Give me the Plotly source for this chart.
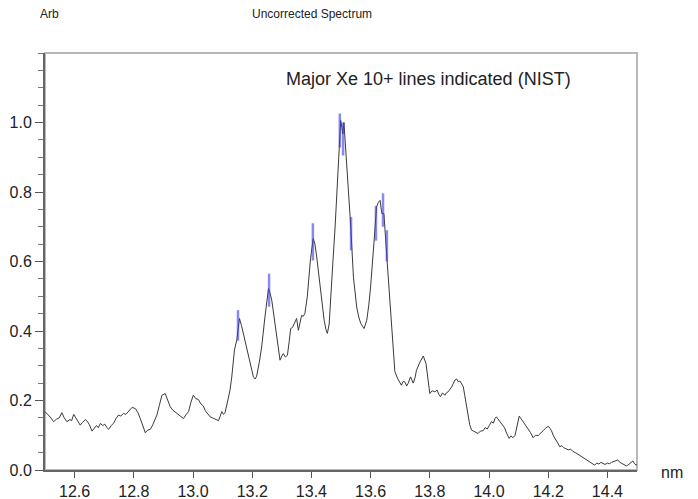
import plotly.graph_objects as go

wavelength = [
 12.500,12.510,12.518,12.529,12.538,12.548,12.557,12.565,12.574,12.584,12.590,12.597,12.606,12.612,12.619,12.627,
 12.636,12.643,12.650,12.659,12.666,12.674,12.680,12.687,12.695,12.702,12.709,12.715,12.724,12.732,12.740,12.748,
 12.756,12.765,12.773,12.781,12.788,12.794,12.805,12.814,12.822,12.830,12.839,12.847,12.856,12.864,12.871,12.878,
 12.886,12.895,12.906,12.914,12.923,12.932,12.938,12.945,12.952,12.960,12.968,12.977,12.985,12.993,13.001,13.010,
 13.018,13.027,13.035,13.042,13.050,13.058,13.066,13.075,13.086,13.092,13.097,13.103,13.108,13.115,13.125,13.131,
 13.140,13.148,13.157,13.164,13.170,13.178,13.187,13.196,13.204,13.210,13.215,13.224,13.232,13.243,13.255,13.260,
 13.266,13.274,13.281,13.288,13.294,13.300,13.305,13.312,13.319,13.325,13.330,13.336,13.341,13.346,13.350,13.356,
 13.362,13.367,13.372,13.378,13.386,13.391,13.397,13.406,13.412,13.418,13.424,13.429,13.436,13.443,13.449,13.454,
 13.460,13.465,13.472,13.480,13.488,13.494,13.499,13.503,13.506,13.510,13.513,13.517,13.525,13.533,13.542,13.553,
 13.560,13.567,13.578,13.587,13.594,13.600,13.611,13.620,13.626,13.632,13.638,13.645,13.654,13.665,13.676,13.682,
 13.692,13.704,13.710,13.716,13.722,13.727,13.735,13.744,13.750,13.755,13.767,13.778,13.787,13.793,13.800,13.808,
 13.817,13.825,13.830,13.836,13.843,13.851,13.856,13.862,13.868,13.874,13.880,13.885,13.891,13.896,13.902,13.907,
 13.913,13.918,13.924,13.929,13.935,13.941,13.950,13.957,13.963,13.971,13.980,13.987,13.994,14.001,14.008,14.015,
 14.020,14.025,14.032,14.039,14.046,14.053,14.060,14.068,14.074,14.081,14.088,14.093,14.098,14.102,14.108,14.115,
 14.122,14.132,14.140,14.149,14.157,14.166,14.175,14.183,14.191,14.200,14.206,14.211,14.218,14.225,14.232,14.239,
 14.246,14.253,14.261,14.268,14.276,14.284,14.292,14.299,14.306,14.314,14.321,14.329,14.336,14.343,14.350,14.357,
 14.364,14.371,14.378,14.385,14.392,14.400,14.407,14.414,14.421,14.428,14.435,14.442,14.450,14.458,14.464,14.469,
 14.478,14.486,14.492,14.497,14.500]

intensity = [
 0.168,0.160,0.152,0.139,0.146,0.150,0.165,0.150,0.139,0.145,0.142,0.160,0.148,0.140,0.129,0.137,
 0.145,0.140,0.130,0.112,0.120,0.128,0.122,0.134,0.128,0.132,0.122,0.117,0.128,0.135,0.148,0.158,
 0.155,0.163,0.160,0.168,0.175,0.180,0.177,0.165,0.148,0.130,0.107,0.115,0.117,0.130,0.145,0.158,
 0.185,0.215,0.220,0.200,0.182,0.172,0.168,0.163,0.158,0.155,0.148,0.160,0.168,0.195,0.215,0.205,
 0.203,0.190,0.184,0.170,0.160,0.153,0.150,0.147,0.142,0.155,0.168,0.160,0.165,0.190,0.230,0.268,
 0.345,0.375,0.436,0.415,0.393,0.368,0.335,0.300,0.268,0.262,0.270,0.310,0.354,0.440,0.522,0.510,
 0.489,0.440,0.393,0.350,0.316,0.328,0.335,0.325,0.330,0.370,0.407,0.410,0.421,0.430,0.436,0.402,
 0.430,0.445,0.442,0.450,0.498,0.550,0.608,0.666,0.650,0.613,0.570,0.527,0.475,0.431,0.405,0.393,
 0.420,0.479,0.590,0.699,0.824,0.920,1.006,0.985,0.967,1.000,0.960,0.920,0.824,0.699,0.555,0.469,
 0.440,0.421,0.407,0.431,0.475,0.527,0.651,0.757,0.770,0.776,0.738,0.738,0.623,0.489,0.360,0.283,
 0.262,0.244,0.255,0.253,0.242,0.250,0.268,0.250,0.265,0.287,0.311,0.328,0.307,0.260,0.220,0.228,
 0.225,0.230,0.218,0.211,0.222,0.215,0.222,0.225,0.232,0.239,0.250,0.259,0.262,0.254,0.256,0.250,
 0.240,0.215,0.185,0.158,0.130,0.115,0.110,0.108,0.105,0.112,0.113,0.122,0.118,0.128,0.139,0.135,
 0.148,0.153,0.145,0.139,0.128,0.121,0.105,0.091,0.098,0.093,0.100,0.118,0.140,0.155,0.148,0.139,
 0.130,0.121,0.108,0.093,0.100,0.099,0.108,0.113,0.120,0.126,0.120,0.113,0.098,0.086,0.078,0.067,
 0.070,0.064,0.062,0.058,0.060,0.053,0.050,0.046,0.043,0.036,0.033,0.029,0.024,0.020,0.018,0.014,
 0.020,0.017,0.022,0.020,0.016,0.020,0.018,0.022,0.024,0.026,0.029,0.022,0.018,0.014,0.012,0.014,
 0.020,0.026,0.018,0.014,0.016]

nist_wl = [13.152, 13.257, 13.405, 13.496, 13.507, 13.534, 13.618, 13.642, 13.655]
nist_lo = [0.372, 0.470, 0.603, 0.928, 0.905, 0.632, 0.660, 0.700, 0.600]
nist_hi = [0.460, 0.565, 0.710, 1.026, 1.000, 0.728, 0.760, 0.796, 0.690]

x_ticks = [12.6, 12.8, 13.0, 13.2, 13.4, 13.6, 13.8, 14.0, 14.2, 14.4]
y_ticks = [0.0, 0.2, 0.4, 0.6, 0.8, 1.0]
y_minor = [round(i * 0.05, 2) for i in range(0, 25)]

seg_x, seg_y = [], []
for w, lo, hi in zip(nist_wl, nist_lo, nist_hi):
    seg_x += [w, w, None]
    seg_y += [lo, hi, None]

# page has an 8px body margin; plot area on page: x 45..637, y 53..470
L, T, R, B = 37, 45, 61, 29
W, H = 690, 491
PW, PH = W - L - R, H - T - B


def px(xp):
    return (xp - 8 - L) / PW


def py(yp):
    return (H - B - (yp - 8)) / PH


fig = go.Figure()
fig.add_trace(go.Scatter(x=wavelength, y=intensity, mode="lines",
                         line=dict(color="#3a3a3a", width=1), hoverinfo="skip"))
fig.add_trace(go.Scatter(x=seg_x, y=seg_y, mode="lines",
                         line=dict(color="rgba(60,60,225,0.6)", width=2.5), hoverinfo="skip"))

font_main = "Liberation Sans, Arial, sans-serif"
fig.update_layout(
    width=W, height=H,
    margin=dict(l=L, r=R, t=T, b=B, autoexpand=False),
    paper_bgcolor="white", plot_bgcolor="white",
    showlegend=False,
    font=dict(family=font_main, size=16, color="#222"),
    xaxis=dict(range=[12.5, 14.5], tickmode="array", tickvals=x_ticks,
               ticktext=[f"{v:.1f}" for v in x_ticks],
               ticks="outside", ticklen=6, tickcolor="#555", tickwidth=1,
               showline=True, linecolor="#666", linewidth=2,
               showgrid=False, zeroline=False,
               tickfont=dict(size=16, color="#222")),
    yaxis=dict(range=[0, 1.2], tickmode="array", tickvals=y_ticks,
               ticktext=[f"{v:.1f}" for v in y_ticks],
               ticks="outside", ticklen=8, tickcolor="#555", tickwidth=1,
               minor=dict(tickmode="array", tickvals=y_minor, ticks="outside",
                          ticklen=5, tickcolor="#777", tickwidth=1, showgrid=False),
               showline=True, linecolor="#666", linewidth=2,
               showgrid=False, zeroline=False,
               tickfont=dict(size=16, color="#222")),
    shapes=[dict(type="rect", xref="paper", yref="paper", x0=0, x1=1, y0=0, y1=1,
                 line=dict(color="#b8b8b8", width=2), layer="below")],
    annotations=[
        dict(text="Arb", xref="paper", yref="paper", x=px(49), y=py(14),
             xanchor="center", yanchor="middle", showarrow=False,
             font=dict(size=12, color="#222")),
        dict(text="Uncorrected Spectrum", xref="paper", yref="paper", x=px(312), y=py(14),
             xanchor="center", yanchor="middle", showarrow=False,
             font=dict(size=12, color="#222")),
        dict(text="Major Xe 10+ lines indicated (NIST)", xref="paper", yref="paper",
             x=px(428), y=py(79), xanchor="center", yanchor="middle", showarrow=False,
             font=dict(size=18, color="#222")),
        dict(text="nm", xref="paper", yref="paper", x=px(672), y=py(472),
             xanchor="center", yanchor="middle", showarrow=False,
             font=dict(size=16, color="#222")),
    ],
)
fig.write_html("out.html")
